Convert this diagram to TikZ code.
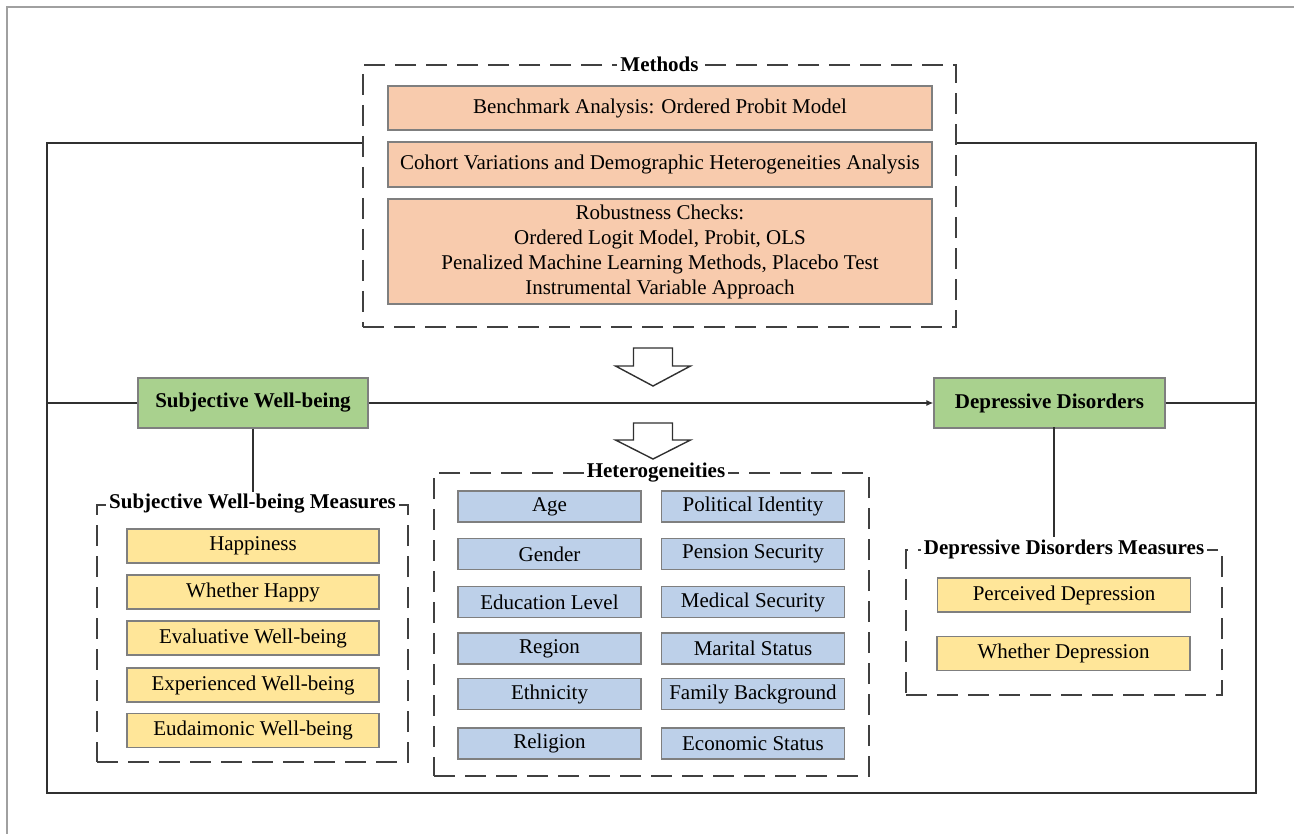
\documentclass[tikz,border=0pt]{standalone}
\usepackage{fontspec}
\setmainfont{Liberation Serif}
\usetikzlibrary{arrows.meta}
\definecolor{orangeF}{HTML}{F8CBAD}
\definecolor{blueF}{HTML}{BDD0E9}
\definecolor{greenF}{HTML}{A9D18E}
\definecolor{yellowF}{HTML}{FFE699}
\definecolor{boxline}{HTML}{7F7F7F}
\definecolor{dashc}{HTML}{404040}
\definecolor{framec}{HTML}{303030}
\definecolor{outerc}{HTML}{A0A0A0}
\begin{document}
\begin{tikzpicture}[x=0.5pt,y=-0.5pt,
  every node/.style={font=\fontsize{10.5}{12.5}\selectfont, inner sep=0pt},
  fillbox/.style={rectangle, draw=boxline, line width=0.6pt, align=center},
  obox/.style={fillbox, fill=orangeF, minimum width=272pt},
  ybox/.style={fillbox, fill=yellowF, minimum width=126pt, minimum height=17pt},
  bbox/.style={fillbox, fill=blueF, minimum width=91.5pt, minimum height=15.5pt},
  gbox/.style={fillbox, fill=greenF, minimum height=25pt, font=\fontsize{10.5}{12.5}\selectfont\bfseries},
  dbox/.style={rectangle, draw=dashc, line width=1pt, dash pattern=on 10.5pt off 5pt},
  title/.style={fill=white, inner xsep=1.5pt, inner ysep=1pt, font=\fontsize{10.5}{12.5}\selectfont\bfseries},
  conn/.style={draw=framec, line width=0.9pt},
  hollow/.style={draw=framec, line width=0.7pt, fill=white, line join=miter}
]
\useasboundingbox (0,0) rectangle (1294,834);
% outer grey page frame
\coordinate (og1) at (7,834);
\coordinate (og2) at (7,7);
\coordinate (og3) at (1294,7);
\draw[outerc, line width=0.8pt] (og1) -- (og2) -- (og3);

% Methods block
\node[dbox, minimum width=296.5pt, minimum height=131pt] (methods) at (659.5,196) {};
\node[obox, minimum height=22pt] (m1) at (660,108) {Benchmark Analysis: Ordered Probit Model};
\node[obox, minimum height=22.5pt] (m2) at (660,164.5) {Cohort Variations and Demographic Heterogeneities Analysis};
\node[obox, minimum height=52.5pt] (m3) at (660,251.5) {Robustness Checks:\\Ordered Logit Model, Probit, OLS\\Penalized Machine Learning Methods, Placebo Test\\Instrumental Variable Approach};
\node[title] (mt) at (methods.north) {Methods};

% main frame
\coordinate (tl) at (47,143);
\coordinate (tr) at (1256,143);
\coordinate (bl) at (47,793);
\coordinate (br) at (1256,793);
\draw[conn] (methods.west |- tl) -- (tl) -- (bl) -- (br) -- (tr) -- (methods.east |- tr);

% main nodes
\node[gbox, minimum width=115pt] (swb) at (253,403) {Subjective Well-being};
\node[gbox, minimum width=115.5pt] (dd) at (1049.5,403) {Depressive Disorders};
\draw[conn] (swb.west) -- (swb.west -| tl);
\draw[conn] (dd.east) -- (dd.east -| tr);
\draw[conn, -{Latex[length=3.5pt,width=3pt]}] (swb.east) -- (dd.west);

% hollow arrows
\coordinate (a1) at (653,348);
\coordinate (a2) at (653,423);
\draw[hollow] (a1) +(-19.5,0) -- +(-19.5,18) -- +(-37.5,18) -- +(0,38) -- +(37.5,18) -- +(19.5,18) -- +(19.5,0) -- cycle;
\draw[hollow] (a2) +(-19.5,0) -- +(-19.5,17) -- +(-37.5,17) -- +(0,36) -- +(37.5,17) -- +(19.5,17) -- +(19.5,0) -- cycle;

% Subjective well-being measures
\node[dbox, minimum width=155.5pt, minimum height=128.5pt] (swbm) at (252.5,633.5) {};
\node[title] (swbmt) at (swbm.north) {Subjective Well-being Measures};
\draw[conn] (swb.south) -- (swb.south |- swbmt.north);
\node[ybox] (y1) at (253,546) {Happiness};
\node[ybox] (y2) at (253,592) {Whether Happy};
\node[ybox] (y3) at (253,638) {Evaluative Well-being};
\node[ybox] (y4) at (253,685) {Experienced Well-being};
\node[ybox] (y5) at (253,730.5) {Eudaimonic Well-being};

% Heterogeneities
\node[dbox, minimum width=217.5pt, minimum height=151.5pt] (het) at (651.5,624.5) {};
\node[title] (hett) at (656,473) {Heterogeneities};
\node[bbox] (h1) at (549.5,506.5) {Age};
\node[bbox] (h2) at (549.5,554) {Gender};
\node[bbox] (h3) at (549.5,602) {Education Level};
\node[bbox] (h4) at (549.5,648.5) {Region};
\node[bbox] (h5) at (549.5,694) {Ethnicity};
\node[bbox] (h6) at (549.5,743.5) {Religion};
\node[bbox] (h7) at (753,506.5) {Political Identity};
\node[bbox] (h8) at (753,554) {Pension Security};
\node[bbox] (h9) at (753,602) {Medical Security};
\node[bbox] (h10) at (753,648.5) {Marital Status};
\node[bbox] (h11) at (753,694) {Family Background};
\node[bbox] (h12) at (753,743.5) {Economic Status};

% Depressive disorders measures
\node[dbox, minimum width=158pt, minimum height=72.5pt] (ddm) at (1064,622.5) {};
\node[title] (ddmt) at (ddm.north) {Depressive Disorders Measures};
\coordinate (ddl) at (1054,427);
\draw[conn] (ddl) -- (ddl |- ddmt.north);
\node[ybox, minimum width=126.5pt] (d1) at (1064,595) {Perceived Depression};
\node[ybox, minimum width=126.5pt] (d2) at (1063.5,653.5) {Whether Depression};
\end{tikzpicture}
\end{document}
